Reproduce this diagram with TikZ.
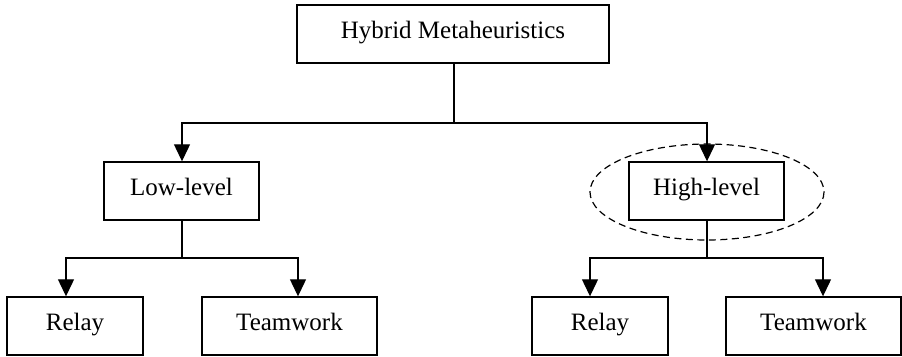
\documentclass[tikz,border=0pt]{standalone}
\usepackage{fontspec}
\setmainfont{Liberation Serif}
\usetikzlibrary{arrows.meta}
\begin{document}
\begin{tikzpicture}[x=1pt,y=-1pt,
  box/.style={draw=black,line width=1.4pt,inner sep=0pt,minimum height=58pt,
    text height=17pt,text depth=8pt,font=\fontsize{25}{30}\selectfont},
  link/.style={draw=black,line width=1.2pt},
  arr/.style={link,-{Triangle[length=17pt,width=16pt]}},
  group/.style={draw=black,line width=1.2pt,dash pattern=on 7pt off 4.5pt}]
\useasboundingbox (0,0) rectangle (902,356);

% hierarchy boxes
\node[box,minimum width=312pt] (hm) at (453,34) {Hybrid Metaheuristics};
\node[box,minimum width=155pt] (low) at (181.5,191) {Low-level};
\node[box,minimum width=155pt] (high) at (706.5,191) {High-level};
\node[box,minimum width=136pt] (relayL) at (75,326) {Relay};
\node[box,minimum width=175pt] (teamL) at (289.5,326) {Teamwork};
\node[box,minimum width=136pt] (relayR) at (600,326) {Relay};
\node[box,minimum width=175pt] (teamR) at (813.5,326) {Teamwork};

% dashed grouping around the high-level branch
\draw[group] (707,192) ellipse [x radius=117, y radius=48];

% junction points of the tree
\coordinate (j0) at (454,123);
\coordinate (j1) at (182,258);
\coordinate (j2) at (707,258);

% connectors
\draw[link] (hm.south -| j0) -- (j0);
\draw[arr] (j0) -| (low.north -| j1);
\draw[arr] (j0) -| (high.north -| j2);

\draw[link] (low.south -| j1) -- (j1);
\draw[arr] (j1) -| ([xshift=-9pt]relayL.north);
\draw[arr] (j1) -| ([xshift=8.5pt]teamL.north);

\draw[link] (high.south -| j2) -- (j2);
\draw[arr] (j2) -| ([xshift=-10pt]relayR.north);
\draw[arr] (j2) -| ([xshift=9.5pt]teamR.north);
\end{tikzpicture}
\end{document}
